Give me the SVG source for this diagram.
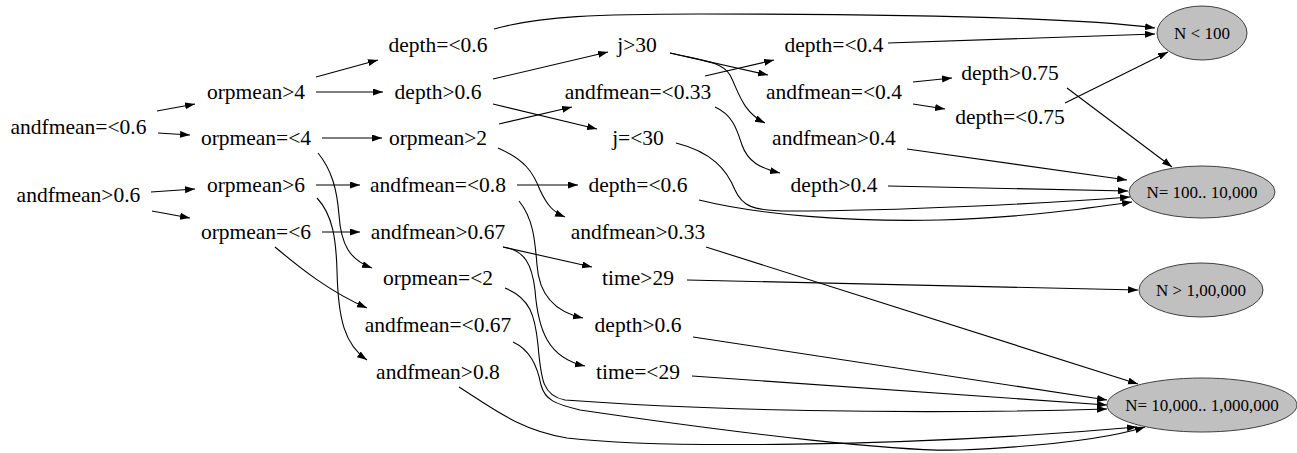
<svg xmlns="http://www.w3.org/2000/svg" width="1297" height="453" viewBox="0 0 1297 453">
<defs>
<marker id="ah" markerUnits="userSpaceOnUse" markerWidth="11" markerHeight="8" refX="10" refY="3.5" orient="auto">
<path d="M0,0 L10,3.5 L0,7 z" fill="#000"/>
</marker>
<style>
.e{fill:none;stroke:#000;stroke-width:1.1;marker-end:url(#ah)}
.t{font-family:"Liberation Serif","Times New Roman",serif;font-size:21.5px;fill:#000;text-anchor:middle}
.lf{fill:#c0c0c0;stroke:#404040;stroke-width:1}
.lt{font-family:"Liberation Serif","Times New Roman",serif;font-size:17px;fill:#000;text-anchor:middle}
</style>
</defs>
<rect width="1297" height="453" fill="#fff"/>
<g id="connectors">
<path class="e" d="M157,111 L195,104"/>
<path class="e" d="M158,133 L190,135"/>
<path class="e" d="M151,192 L195,189"/>
<path class="e" d="M152,211 L190,218"/>
<path class="e" d="M316,77 L378,60"/>
<path class="e" d="M316,92 L383,92"/>
<path class="e" d="M322,138 L382,138"/>
<path class="e" d="M318,153 C332,170 337,190 339,215 C341,245 350,260 372,268"/>
<path class="e" d="M316,185 L360,185"/>
<path class="e" d="M317,198 C333,215 336,240 337,270 C338,320 345,345 367,360"/>
<path class="e" d="M322,232 L360,232"/>
<path class="e" d="M275,247 C300,268 330,292 367,308"/>
<path class="e" d="M494,29 C540,16 600,14 700,14 C900,14 1080,18 1155,28"/>
<path class="e" d="M493,79 L608,52"/>
<path class="e" d="M493,104 L597,129"/>
<path class="e" d="M499,124 L572,107"/>
<path class="e" d="M498,148 C525,160 533,172 540,190 C547,205 553,212 565,217"/>
<path class="e" d="M517,185 L578,185"/>
<path class="e" d="M519,201 C533,218 535,240 537,265 C539,295 555,312 583,318"/>
<path class="e" d="M503,247 L592,267"/>
<path class="e" d="M503,247 C525,250 532,265 535,290 C538,330 548,358 585,366"/>
<path class="e" d="M505,288 C530,298 535,315 538,345 C541,380 543,396 565,400 C700,410 900,415 1107,409"/>
<path class="e" d="M513,342 C530,350 537,365 541,385 C545,400 555,404 580,410 C750,435 900,452 960,450 C1050,446 1110,438 1145,427"/>
<path class="e" d="M459,387 C495,410 520,430 567,438 C650,448 900,448 1137,427"/>
<path class="e" d="M670,53 L768,75"/>
<path class="e" d="M670,53 C705,61 722,62 730,75 C738,90 742,112 765,123"/>
<path class="e" d="M705,76 L774,60"/>
<path class="e" d="M715,107 C733,115 737,130 742,145 C748,162 760,168 780,173"/>
<path class="e" d="M676,143 C712,152 727,170 735,190 C742,205 750,211 790,211 C900,211 1050,203 1130,197"/>
<path class="e" d="M699,200 C760,215 850,222 940,220 C1020,218 1090,208 1132,202"/>
<path class="e" d="M706,247 L1138,384"/>
<path class="e" d="M687,280 L1138,290"/>
<path class="e" d="M693,337 L1107,400"/>
<path class="e" d="M692,376 L1107,405"/>
<path class="e" d="M888,43 L1155,34"/>
<path class="e" d="M913,82 L952,78"/>
<path class="e" d="M913,104 L945,109"/>
<path class="e" d="M907,149 L1127,180"/>
<path class="e" d="M888,186 L1128,191"/>
<path class="e" d="M1067,88 L1172,167"/>
<path class="e" d="M1065,103 L1168,52"/>
</g>
<g id="n0a"><text class="t" x="78.5" y="134">andfmean=&lt;0.6</text></g>
<g id="n0b"><text class="t" x="78.5" y="202">andfmean&gt;0.6</text></g>
<g id="n1a"><text class="t" x="256" y="99">orpmean&gt;4</text></g>
<g id="n1b"><text class="t" x="256" y="145">orpmean=&lt;4</text></g>
<g id="n1c"><text class="t" x="256" y="192">orpmean&gt;6</text></g>
<g id="n1d"><text class="t" x="256" y="239">orpmean=&lt;6</text></g>
<g id="n2a"><text class="t" x="438" y="52">depth=&lt;0.6</text></g>
<g id="n2b"><text class="t" x="438" y="99">depth&gt;0.6</text></g>
<g id="n2c"><text class="t" x="438" y="145">orpmean&gt;2</text></g>
<g id="n2d"><text class="t" x="438" y="192">andfmean=&lt;0.8</text></g>
<g id="n2e"><text class="t" x="438" y="239">andfmean&gt;0.67</text></g>
<g id="n2f"><text class="t" x="438" y="285">orpmean=&lt;2</text></g>
<g id="n2g"><text class="t" x="438" y="332">andfmean=&lt;0.67</text></g>
<g id="n2h"><text class="t" x="438" y="379">andfmean&gt;0.8</text></g>
<g id="n3a"><text class="t" x="637" y="52">j&gt;30</text></g>
<g id="n3b"><text class="t" x="638" y="99">andfmean=&lt;0.33</text></g>
<g id="n3c"><text class="t" x="638" y="145">j=&lt;30</text></g>
<g id="n3d"><text class="t" x="638" y="192">depth=&lt;0.6</text></g>
<g id="n3e"><text class="t" x="638" y="239">andfmean&gt;0.33</text></g>
<g id="n3f"><text class="t" x="638" y="285">time&gt;29</text></g>
<g id="n3g"><text class="t" x="638" y="332">depth&gt;0.6</text></g>
<g id="n3h"><text class="t" x="638" y="379">time=&lt;29</text></g>
<g id="n4a"><text class="t" x="834" y="52">depth=&lt;0.4</text></g>
<g id="n4b"><text class="t" x="834" y="99">andfmean=&lt;0.4</text></g>
<g id="n4c"><text class="t" x="834" y="145">andfmean&gt;0.4</text></g>
<g id="n4d"><text class="t" x="834" y="192">depth&gt;0.4</text></g>
<g id="n5a"><text class="t" x="1010" y="80">depth&gt;0.75</text></g>
<g id="n5b"><text class="t" x="1010" y="124">depth=&lt;0.75</text></g>
<g id="L1"><ellipse class="lf" cx="1202" cy="33" rx="45" ry="27"/><text class="lt" x="1202" y="39">N &lt; 100</text></g>
<g id="L2"><ellipse class="lf" cx="1202" cy="192" rx="73" ry="26"/><text class="lt" x="1202" y="198">N= 100.. 10,000</text></g>
<g id="L3"><ellipse class="lf" cx="1201" cy="290" rx="62" ry="27"/><text class="lt" x="1201" y="296">N &gt; 1,00,000</text></g>
<g id="L4"><ellipse class="lf" cx="1202" cy="405" rx="95" ry="27"/><text class="lt" x="1202" y="411">N= 10,000.. 1,000,000</text></g>
</svg>
